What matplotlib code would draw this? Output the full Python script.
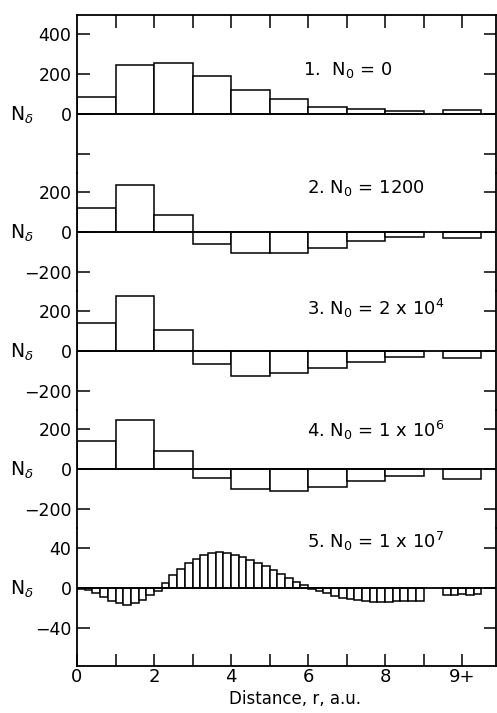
import matplotlib.pyplot as plt

# coarse bins: left edges (width 1), last one is the "9+" bin
coarse_left = [0, 1, 2, 3, 4, 5, 6, 7, 8, 9.5]
n1 = [83, 243, 257, 190, 120, 73, 37, 25, 15, 20]
n2 = [118, 235, 85, -58, -105, -103, -78, -45, -25, -30]
n3 = [138, 275, 105, -65, -123, -112, -83, -55, -30, -35]
n4 = [142, 245, 92, -45, -98, -108, -88, -58, -33, -48]

# fine bins for panel 5 (width 0.2)
fine_left = [0.0, 0.2, 0.4, 0.6, 0.8, 1.0, 1.2, 1.4, 1.6, 1.8,
             2.0, 2.2, 2.4, 2.6, 2.8, 3.0, 3.2, 3.4, 3.6, 3.8,
             4.0, 4.2, 4.4, 4.6, 4.8, 5.0, 5.2, 5.4, 5.6, 5.8,
             6.0, 6.2, 6.4, 6.6, 6.8, 7.0, 7.2, 7.4, 7.6, 7.8,
             8.0, 8.2, 8.4, 8.6, 8.8,
             9.5, 9.7, 9.9, 10.1, 10.3]
n5 = [-1, -2, -5, -9, -13, -15, -17, -15, -12, -7,
      -3, 5, 13, 19, 25, 29, 33, 35, 36, 35,
      33, 31, 28, 25, 22, 18, 14, 10, 6, 3,
      -1, -3, -5, -8, -10, -11, -12, -13, -14, -14,
      -14, -13, -13, -13, -13,
      -7, -7, -6, -7, -6]

labels = ["1.  N$_0$ = 0", "2. N$_0$ = 1200", "3. N$_0$ = 2 x 10$^4$",
          "4. N$_0$ = 1 x 10$^6$", "5. N$_0$ = 1 x 10$^7$"]
label_x = [5.87, 5.97, 5.97, 5.97, 5.97]
label_y = [195, 197, 180, 162, 40]

yticks = [[-200, 0, 200, 400], [-200, 0, 200], [-200, 0, 200],
          [-200, 0, 200], [-40, 0, 40]]
yticklabels = [['', '0', '200', '400'], ['\u2212200', '0', '200'],
               ['\u2212200', '0', '200'], ['\u2212200', '0', '200'],
               ['\u221240', '0', '40']]

# layout in pixels: panel edges, zero line and px per unit
W, H = 497, 713
edges = [15, 173, 291, 410, 528, 666]
zeros = [114, 232, 351, 469, 588]
scale = [0.2, 0.2, 0.2, 0.2, 1.0]
left_px, right_px = 77, 496

fig = plt.figure(figsize=(W / 100, H / 100), dpi=100)

panels = [(coarse_left, n1, 1.0), (coarse_left, n2, 1.0), (coarse_left, n3, 1.0),
          (coarse_left, n4, 1.0), (fine_left, n5, 0.2)]

for i, (xl, vals, w) in enumerate(panels):
    t, b = edges[i], edges[i + 1]
    ax = fig.add_axes([left_px / W, 1 - b / H, (right_px - left_px) / W, (b - t) / H])
    ax.patch.set_alpha(0)
    ax.bar(xl, vals, width=w, align='edge', color='white', edgecolor='black', lw=1.1)
    ax.axhline(0, color='black', lw=1.3)
    ax.set_xlim(0, 10.88)
    ax.set_ylim((zeros[i] - b) / scale[i], (zeros[i] - t) / scale[i])

    for s in ax.spines.values():
        s.set_linewidth(1.3)
    ax.spines['top'].set_visible(i == 0)
    ax.spines['bottom'].set_visible(i == 4)

    ax.set_yticks(yticks[i])
    ax.set_yticklabels(yticklabels[i])
    ax.tick_params(axis='y', direction='in', length=9, width=1.1, right=True,
                   labelsize=12.5, pad=4)

    if i == 0:
        ax.set_xticks(range(1, 11))
        ax.tick_params(axis='x', direction='in', length=9, width=1.1, top=True,
                       bottom=False, labelbottom=False)
    elif i == 4:
        ax.set_xticks(range(0, 11))
        ax.set_xticklabels(['0', '', '2', '', '4', '', '6', '', '8', '', '9+'])
        ax.tick_params(axis='x', direction='in', length=9, width=1.1,
                       labelsize=13, pad=1.5)
    else:
        ax.set_xticks([])

    ax.text(label_x[i], label_y[i], labels[i], fontsize=13, va='baseline', ha='left')
    ax.annotate("N$_\\delta$", xy=(0, 0), xycoords=('axes fraction', 'data'),
                xytext=(-48, -5), textcoords='offset points', va='baseline',
                fontsize=13.5, annotation_clip=False)

fig.text(295 / W, 1 - 699 / H, "Distance, r, a.u.", ha='center', va='center', fontsize=12)

plt.savefig("out.png", dpi=100)
